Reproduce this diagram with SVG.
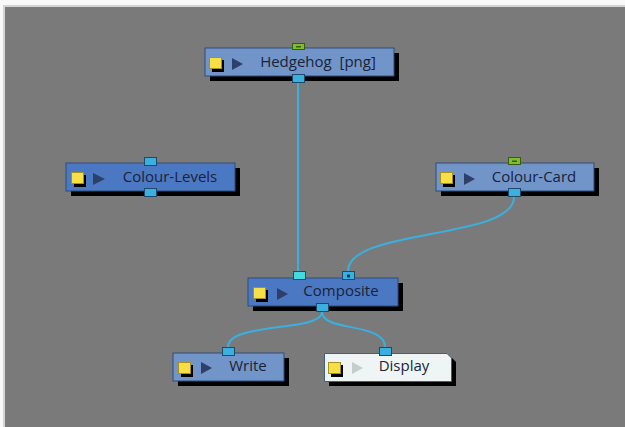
<svg xmlns="http://www.w3.org/2000/svg" width="625" height="427" viewBox="0 0 625 427">
<defs>
<style>
.bg{fill:#f9f9f9}
.frame{fill:#d4d4d4}
.canvas{fill:#7a7a7a}
.shadow{fill:#000}
.nb{fill:#7195c9;stroke:#2f4c78;stroke-width:1}
.ns{fill:#4b78c2;stroke:#2f4c78;stroke-width:1}
.nw{fill:#eef5f4;stroke:#3f5f7a;stroke-width:1}
.port{fill:#3ab0e0;stroke:#1d4a6a;stroke-width:1}
.portc{fill:#46d8e0;stroke:#1d4a6a;stroke-width:1}
.portg{fill:#7cbf2a;stroke:#3a5a18;stroke-width:1}
.ico{fill:#f7e045;stroke:#a89020;stroke-width:1}
.icos{fill:#000}
.tri{fill:#2f4068}
.tril{fill:#c4cccc}
.lbl{font-family:"Open Sans","Noto Sans",sans-serif;font-size:15px;fill:#1a2238;text-anchor:middle;dominant-baseline:central;white-space:pre}
.wire{fill:none;stroke:#3ab0e0;stroke-width:2}
</style>
</defs>
<rect class="bg" x="0" y="0" width="625" height="427"/>
<rect class="frame" x="3" y="5" width="622" height="422"/>
<rect class="canvas" x="5" y="7" width="620" height="420"/>

<g id="connectors">
<path class="wire" d="M298,83 L298,271"/>
<path class="wire" d="M514,197 C514,240 348,228 348,271"/>
<path class="wire" d="M322,312 C322,332 228,322 228,347"/>
<path class="wire" d="M322,312 C322,332 385,322 385,347"/>
</g>

<g id="hedgehog">
<rect class="shadow" x="210" y="53" width="189" height="28"/>
<rect class="nb" x="205" y="48" width="189" height="28"/>
<rect class="portg" x="292.5" y="43.5" width="12" height="6"/>
<rect x="296" y="46" width="5" height="1.5" fill="#3a5a18"/>
<rect class="port" x="292.5" y="74.5" width="12" height="8"/>
<rect class="icos" x="212" y="60" width="12" height="12"/>
<rect class="ico" x="209.5" y="57.5" width="12" height="11"/>
<path class="tri" d="M232,58 L243,64 L232,70 Z"/>
<text class="lbl" x="318" y="61" xml:space="preserve">Hedgehog  [png]</text>
</g>

<g id="colour-levels">
<rect class="shadow" x="71" y="168" width="169" height="28"/>
<rect class="ns" x="66" y="163" width="169" height="28"/>
<rect class="port" x="144.5" y="157.5" width="12" height="8"/>
<rect class="port" x="144.5" y="188.5" width="12" height="8"/>
<rect class="icos" x="74" y="175" width="12" height="12"/>
<rect class="ico" x="71.5" y="172.5" width="12" height="11"/>
<path class="tri" d="M93,173 L105,179 L93,185 Z" fill="#2f3e7a"/>
<text class="lbl" x="170" y="176">Colour-Levels</text>
</g>

<g id="colour-card">
<rect class="shadow" x="441" y="168" width="158" height="28"/>
<rect class="nb" x="436" y="163" width="158" height="28"/>
<rect class="portg" x="508.5" y="157.5" width="12" height="7"/>
<rect x="512" y="160.5" width="5" height="1.5" fill="#3a5a18"/>
<rect class="port" x="508.5" y="188.5" width="12" height="8"/>
<rect class="icos" x="443" y="175" width="12" height="12"/>
<rect class="ico" x="440.5" y="172.5" width="12" height="11"/>
<path class="tri" d="M464,173 L475,179 L464,185 Z"/>
<text class="lbl" x="534" y="176">Colour-Card</text>
</g>

<g id="composite">
<rect class="shadow" x="253" y="283" width="150" height="28"/>
<rect class="ns" x="248" y="278" width="150" height="28"/>
<rect class="portc" x="293.5" y="271.5" width="12" height="8"/>
<rect class="port" x="342.5" y="271.5" width="12" height="8"/>
<rect x="347" y="274.5" width="3" height="3" fill="#1d3a55"/>
<rect class="port" x="316.5" y="303.5" width="12" height="8"/>
<rect class="icos" x="256" y="290" width="12" height="12"/>
<rect class="ico" x="253.5" y="287.5" width="12" height="11"/>
<path class="tri" d="M277,288 L288,294 L277,300 Z" fill="#2f3e7a"/>
<text class="lbl" x="341" y="290">Composite</text>
</g>

<g id="write">
<rect class="shadow" x="178" y="358" width="111" height="28"/>
<rect class="nb" x="173" y="353" width="111" height="28"/>
<rect class="port" x="222.5" y="347.5" width="12" height="8"/>
<rect class="icos" x="181" y="365" width="12" height="12"/>
<rect class="ico" x="178.5" y="362.5" width="12" height="11"/>
<path class="tri" d="M201,362 L212,368 L201,374 Z"/>
<text class="lbl" x="248" y="365">Write</text>
</g>

<g id="display">
<path class="shadow" d="M329,358 L452,358 L456,362 L456,386 L329,386 Z"/>
<path class="nw" d="M324.5,353.5 L447,353.5 L451.5,358 L451.5,381.5 L324.5,381.5 Z"/>
<rect class="port" x="379.5" y="347.5" width="12" height="8"/>
<rect class="icos" x="331" y="365" width="12" height="12"/>
<rect class="ico" x="328.5" y="362.5" width="12" height="11"/>
<path class="tril" d="M352,362 L363,368 L352,374 Z"/>
<text class="lbl" x="404" y="365">Display</text>
</g>
</svg>
